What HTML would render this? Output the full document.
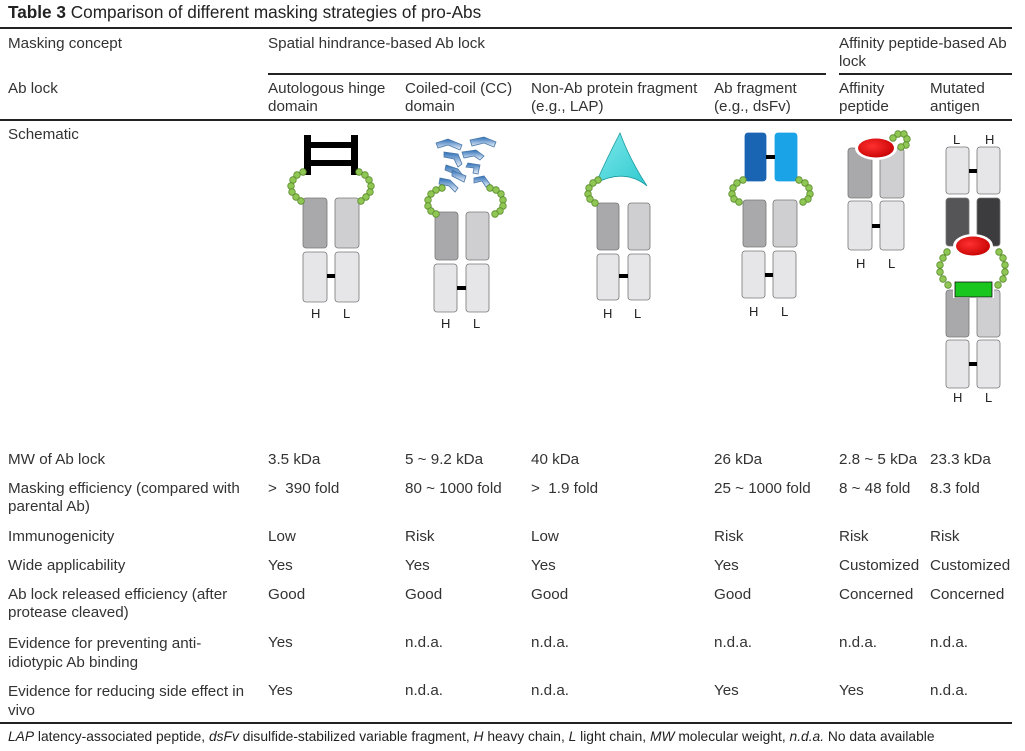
<!DOCTYPE html>
<html><head><meta charset="utf-8"><style>
body{margin:0;width:1025px;height:751px;background:#fff;position:relative;overflow:hidden;font-family:"Liberation Sans",sans-serif;color:#333;font-size:15.2px;}
.t{position:absolute;line-height:17.5px;white-space:nowrap;}
.ln{position:absolute;background:#222;}
</style></head><body>
<div class="t" style="left:8px;top:4px;font-size:17.2px;color:#222"><b>Table 3</b> Comparison of different masking strategies of pro-Abs</div>
<div class="ln" style="left:0;top:27px;width:1012px;height:2px"></div>
<div class="t" style="left:8px;top:35px">Masking concept</div>
<div class="t" style="left:268px;top:35px">Spatial hindrance-based Ab lock</div>
<div class="t" style="left:839px;top:35px">Affinity peptide-based Ab<br>lock</div>
<div class="ln" style="left:268px;top:73px;width:558px;height:1.5px"></div>
<div class="ln" style="left:839px;top:73px;width:173px;height:1.5px"></div>
<div class="t" style="left:8px;top:80px">Ab lock</div>
<div class="t" style="left:268px;top:80px">Autologous hinge<br>domain</div>
<div class="t" style="left:405px;top:80px">Coiled-coil (CC)<br>domain</div>
<div class="t" style="left:531px;top:80px">Non-Ab protein fragment<br>(e.g., LAP)</div>
<div class="t" style="left:714px;top:80px">Ab fragment<br>(e.g., dsFv)</div>
<div class="t" style="left:839px;top:80px">Affinity<br>peptide</div>
<div class="t" style="left:930px;top:80px">Mutated<br>antigen</div>
<div class="ln" style="left:0;top:119px;width:1012px;height:2px"></div>
<div class="t" style="left:8px;top:126px">Schematic</div>

<div class="t" style="left:8px;top:451px">MW of Ab lock</div>
<div class="t" style="left:268px;top:451px">3.5 kDa</div>
<div class="t" style="left:405px;top:451px">5 ~ 9.2 kDa</div>
<div class="t" style="left:531px;top:451px">40 kDa</div>
<div class="t" style="left:714px;top:451px">26 kDa</div>
<div class="t" style="left:839px;top:451px">2.8 ~ 5 kDa</div>
<div class="t" style="left:930px;top:451px">23.3 kDa</div>

<div class="t" style="left:8px;top:480px">Masking efficiency (compared with<br>parental Ab)</div>
<div class="t" style="left:268px;top:480px">&gt; &nbsp;390 fold</div>
<div class="t" style="left:405px;top:480px">80 ~ 1000 fold</div>
<div class="t" style="left:531px;top:480px">&gt; &nbsp;1.9 fold</div>
<div class="t" style="left:714px;top:480px">25 ~ 1000 fold</div>
<div class="t" style="left:839px;top:480px">8 ~ 48 fold</div>
<div class="t" style="left:930px;top:480px">8.3 fold</div>

<div class="t" style="left:8px;top:528px">Immunogenicity</div>
<div class="t" style="left:268px;top:528px">Low</div>
<div class="t" style="left:405px;top:528px">Risk</div>
<div class="t" style="left:531px;top:528px">Low</div>
<div class="t" style="left:714px;top:528px">Risk</div>
<div class="t" style="left:839px;top:528px">Risk</div>
<div class="t" style="left:930px;top:528px">Risk</div>

<div class="t" style="left:8px;top:557px">Wide applicability</div>
<div class="t" style="left:268px;top:557px">Yes</div>
<div class="t" style="left:405px;top:557px">Yes</div>
<div class="t" style="left:531px;top:557px">Yes</div>
<div class="t" style="left:714px;top:557px">Yes</div>
<div class="t" style="left:839px;top:557px">Customized</div>
<div class="t" style="left:930px;top:557px">Customized</div>

<div class="t" style="left:8px;top:586px">Ab lock released efficiency (after<br>protease cleaved)</div>
<div class="t" style="left:268px;top:586px">Good</div>
<div class="t" style="left:405px;top:586px">Good</div>
<div class="t" style="left:531px;top:586px">Good</div>
<div class="t" style="left:714px;top:586px">Good</div>
<div class="t" style="left:839px;top:586px">Concerned</div>
<div class="t" style="left:930px;top:586px">Concerned</div>

<div class="t" style="left:8px;top:634px;line-height:19px">Evidence for preventing anti-<br>idiotypic Ab binding</div>
<div class="t" style="left:268px;top:634px">Yes</div>
<div class="t" style="left:405px;top:634px">n.d.a.</div>
<div class="t" style="left:531px;top:634px">n.d.a.</div>
<div class="t" style="left:714px;top:634px">n.d.a.</div>
<div class="t" style="left:839px;top:634px">n.d.a.</div>
<div class="t" style="left:930px;top:634px">n.d.a.</div>

<div class="t" style="left:8px;top:682px;line-height:19px">Evidence for reducing side effect in<br>vivo</div>
<div class="t" style="left:268px;top:682px">Yes</div>
<div class="t" style="left:405px;top:682px">n.d.a.</div>
<div class="t" style="left:531px;top:682px">n.d.a.</div>
<div class="t" style="left:714px;top:682px">Yes</div>
<div class="t" style="left:839px;top:682px">Yes</div>
<div class="t" style="left:930px;top:682px">n.d.a.</div>

<div class="ln" style="left:0;top:722px;width:1012px;height:1.5px"></div>
<div class="t" style="left:8px;top:728px;font-size:13.8px;color:#222"><i>LAP</i> latency-associated peptide, <i>dsFv</i> disulfide-stabilized variable fragment, <i>H</i> heavy chain, <i>L</i> light chain, <i>MW</i> molecular weight, <i>n.d.a.</i> No data available</div>

<svg width="1025" height="751" style="position:absolute;left:0;top:0" font-family="Liberation Sans, sans-serif" font-size="13" fill="#222">
<defs>
<linearGradient id="bl" x1="0" y1="0" x2="0" y2="1"><stop offset="0" stop-color="#2d6fb8"/><stop offset="1" stop-color="#eef3fa"/></linearGradient>
<linearGradient id="cy" x1="0" y1="0" x2="1" y2="1"><stop offset="0" stop-color="#7ee8ea"/><stop offset="1" stop-color="#2ec9cf"/></linearGradient>
<radialGradient id="rd" cx="0.4" cy="0.4" r="0.7"><stop offset="0" stop-color="#ff3030"/><stop offset="1" stop-color="#c40000"/></radialGradient>
</defs>
<g stroke="#777" stroke-width="0.8">
<rect x="303" y="198" width="24" height="50" rx="3" fill="#a9a8aa"/><rect x="335" y="198" width="24" height="50" rx="3" fill="#cfcfd1"/>
<rect x="303" y="252" width="24" height="50" rx="3" fill="#e6e6e8"/><rect x="335" y="252" width="24" height="50" rx="3" fill="#e6e6e8"/>
<rect x="435" y="212" width="23" height="48" rx="3" fill="#a9a8aa"/><rect x="466" y="212" width="23" height="48" rx="3" fill="#cfcfd1"/>
<rect x="434" y="264" width="23" height="48" rx="3" fill="#e6e6e8"/><rect x="466" y="264" width="23" height="48" rx="3" fill="#e6e6e8"/>
<rect x="597" y="203" width="22" height="47" rx="3" fill="#a9a8aa"/><rect x="628" y="203" width="22" height="47" rx="3" fill="#cfcfd1"/>
<rect x="597" y="254" width="22" height="46" rx="3" fill="#e6e6e8"/><rect x="628" y="254" width="22" height="46" rx="3" fill="#e6e6e8"/>
<rect x="745" y="133" width="21" height="48" rx="3" fill="#1a64b4" stroke="#1a64b4"/><rect x="775" y="133" width="22" height="48" rx="3" fill="#1aa3e6" stroke="#1aa3e6"/>
<rect x="743" y="200" width="23" height="47" rx="3" fill="#a9a8aa"/><rect x="773" y="200" width="24" height="47" rx="3" fill="#cfcfd1"/>
<rect x="742" y="251" width="23" height="47" rx="3" fill="#e6e6e8"/><rect x="773" y="251" width="23" height="47" rx="3" fill="#e6e6e8"/>
<rect x="848" y="148" width="24" height="50" rx="3" fill="#a9a8aa"/><rect x="880" y="148" width="24" height="50" rx="3" fill="#cfcfd1"/>
<rect x="848" y="201" width="24" height="49" rx="3" fill="#e6e6e8"/><rect x="880" y="201" width="24" height="49" rx="3" fill="#e6e6e8"/>
<rect x="946" y="147" width="23" height="47" rx="3" fill="#e6e6e8"/><rect x="977" y="147" width="23" height="47" rx="3" fill="#e6e6e8"/>
<rect x="946" y="198" width="23" height="48" rx="3" fill="#555557"/><rect x="977" y="198" width="23" height="48" rx="3" fill="#3c3c3e"/>
<rect x="946" y="290" width="23" height="47" rx="3" fill="#a9a8aa"/><rect x="977" y="290" width="23" height="47" rx="3" fill="#cfcfd1"/>
<rect x="946" y="340" width="23" height="48" rx="3" fill="#e6e6e8"/><rect x="977" y="340" width="23" height="48" rx="3" fill="#e6e6e8"/>
</g>
<g fill="#000">
<rect x="327" y="274" width="8" height="4"/><rect x="457" y="286" width="9" height="4"/><rect x="619" y="274" width="9" height="4"/>
<rect x="766" y="155" width="9" height="4"/><rect x="765" y="273" width="8" height="4"/><rect x="872" y="224" width="8" height="4"/>
<rect x="969" y="169" width="8" height="4"/><rect x="969" y="362" width="8" height="4"/>
<rect x="304" y="135" width="7" height="40"/><rect x="351" y="135" width="7" height="40"/>
<rect x="311" y="142" width="40" height="6"/><rect x="311" y="160" width="40" height="6"/>
</g>
<g fill="url(#bl)" stroke="#4a78a8" stroke-width="0.8">
<path d="M436 143 l12 -4 l14 6 l-2 5 l-12 -5 l-10 3 z"/>
<path d="M470 140 l14 -3 l12 5 l-2 5 l-10 -4 l-12 3 z"/>
<path d="M444 152 l14 2 l4 10 l-4 3 l-4 -8 l-10 -2 z"/>
<path d="M462 152 l14 -2 l8 6 l-4 4 l-6 -4 l-10 2 z"/>
<path d="M446 165 l12 4 l6 8 l-4 3 l-5 -6 l-10 -4 z"/>
<path d="M468 163 l12 2 l-2 9 l-5 -1 l1 -5 l-8 -1 z"/>
<path d="M440 178 l10 2 l8 8 l-3 4 l-6 -6 l-10 -2 z"/>
<path d="M474 178 l10 -2 l6 8 l-4 3 l-4 -6 l-8 2 z"/>
<path d="M452 170 l14 6 l-2 6 l-12 -6 z"/>
</g>
<path d="M596 183 Q606 160 620 133 Q630 160 647 186 Q625 168 596 183 Z" fill="url(#cy)" stroke="#1a9aa0" stroke-width="0.8"/>
<ellipse cx="876" cy="148" rx="21" ry="12" fill="#fff"/><ellipse cx="876" cy="148" rx="18" ry="9.5" fill="url(#rd)"/>
<ellipse cx="973" cy="246" rx="20" ry="12" fill="#fff"/><ellipse cx="973" cy="246" rx="17" ry="9.5" fill="url(#rd)"/>
<rect x="953" y="280" width="41" height="18" fill="#fff"/><rect x="955" y="282" width="37" height="15" fill="#19c61e" stroke="#111" stroke-width="0.8"/>
<g fill="#8fc654" stroke="#5a8c2c" stroke-width="0.8">
<circle cx="303" cy="172" r="3.3"/><circle cx="297" cy="175" r="3.3"/><circle cx="293" cy="180" r="3.3"/><circle cx="291" cy="186" r="3.3"/><circle cx="292" cy="192" r="3.3"/><circle cx="296" cy="197" r="3.3"/><circle cx="301" cy="201" r="3.3"/>
<circle cx="359" cy="172" r="3.3"/><circle cx="365" cy="175" r="3.3"/><circle cx="369" cy="180" r="3.3"/><circle cx="371" cy="186" r="3.3"/><circle cx="370" cy="192" r="3.3"/><circle cx="366" cy="197" r="3.3"/><circle cx="361" cy="201" r="3.3"/>
<circle cx="442" cy="188" r="3.3"/><circle cx="436" cy="190" r="3.3"/><circle cx="431" cy="194" r="3.3"/><circle cx="428" cy="200" r="3.3"/><circle cx="428" cy="206" r="3.3"/><circle cx="431" cy="211" r="3.3"/><circle cx="436" cy="214" r="3.3"/>
<circle cx="490" cy="188" r="3.3"/><circle cx="496" cy="190" r="3.3"/><circle cx="501" cy="194" r="3.3"/><circle cx="503" cy="200" r="3.3"/><circle cx="503" cy="206" r="3.3"/><circle cx="500" cy="211" r="3.3"/><circle cx="495" cy="214" r="3.3"/>
<circle cx="598" cy="180" r="3.3"/><circle cx="593" cy="183" r="3.3"/><circle cx="589" cy="188" r="3.3"/><circle cx="588" cy="194" r="3.3"/><circle cx="590" cy="199" r="3.3"/><circle cx="595" cy="203" r="3.3"/>
<circle cx="743" cy="180" r="3.3"/><circle cx="737" cy="183" r="3.3"/><circle cx="733" cy="188" r="3.3"/><circle cx="732" cy="194" r="3.3"/><circle cx="734" cy="199" r="3.3"/><circle cx="739" cy="202" r="3.3"/>
<circle cx="799" cy="180" r="3.3"/><circle cx="805" cy="183" r="3.3"/><circle cx="809" cy="188" r="3.3"/><circle cx="810" cy="194" r="3.3"/><circle cx="808" cy="199" r="3.3"/><circle cx="803" cy="202" r="3.3"/>
<circle cx="893" cy="138" r="3.3"/><circle cx="898" cy="134" r="3.3"/><circle cx="904" cy="134" r="3.3"/><circle cx="907" cy="139" r="3.3"/><circle cx="906" cy="145" r="3.3"/><circle cx="901" cy="147" r="3.3"/>
<circle cx="947" cy="252" r="3.3"/><circle cx="943" cy="258" r="3.3"/><circle cx="940" cy="265" r="3.3"/><circle cx="940" cy="272" r="3.3"/><circle cx="943" cy="279" r="3.3"/><circle cx="948" cy="285" r="3.3"/>
<circle cx="999" cy="252" r="3.3"/><circle cx="1003" cy="258" r="3.3"/><circle cx="1005" cy="265" r="3.3"/><circle cx="1005" cy="272" r="3.3"/><circle cx="1003" cy="279" r="3.3"/><circle cx="998" cy="285" r="3.3"/>
</g>
<text x="311" y="318">H</text><text x="343" y="318">L</text>
<text x="441" y="328">H</text><text x="473" y="328">L</text>
<text x="603" y="318">H</text><text x="634" y="318">L</text>
<text x="749" y="316">H</text><text x="781" y="316">L</text>
<text x="856" y="268">H</text><text x="888" y="268">L</text>
<text x="953" y="144">L</text><text x="985" y="144">H</text>
<text x="953" y="402">H</text><text x="985" y="402">L</text>
</svg>
</body></html>
